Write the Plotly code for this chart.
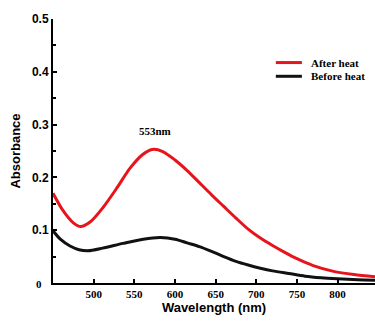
import plotly.graph_objects as go

# Data
wl_after = [450, 462, 475, 484, 496, 512, 529, 545, 560, 572, 585, 600, 615, 630, 645, 660, 675, 690, 705, 720, 735, 750, 770, 795, 820, 846]
abs_after = [0.170, 0.138, 0.114, 0.107, 0.116, 0.144, 0.181, 0.218, 0.243, 0.253, 0.249, 0.233, 0.213, 0.190, 0.167, 0.145, 0.123, 0.102, 0.085, 0.071, 0.058, 0.046, 0.033, 0.022, 0.016, 0.012]

wl_before = [450, 459, 471, 482, 493, 511, 536, 561, 582, 600, 615, 630, 645, 660, 675, 690, 705, 720, 740, 760, 780, 800, 825, 846]
abs_before = [0.099, 0.083, 0.070, 0.063, 0.061, 0.066, 0.075, 0.083, 0.086, 0.083, 0.076, 0.069, 0.060, 0.050, 0.041, 0.034, 0.028, 0.023, 0.018, 0.013, 0.010, 0.008, 0.006, 0.005]

x_ticks = [500, 550, 600, 650, 700, 750, 800]
y_ticks = [0.1, 0.2, 0.3, 0.4, 0.5]
y_ticktext = ["0.1", "0.2", "0.3", "0.4", "0.5"]
series_names = ["After heat", "Before heat"]
series_colors = ["#e8141b", "#111111"]

serif = "Liberation Serif"
sans = "Liberation Sans"

fig = go.Figure()
fig.add_trace(go.Scatter(x=wl_after, y=abs_after, mode="lines", name=series_names[0], showlegend=False,
                         line=dict(color=series_colors[0], width=3, shape="spline", smoothing=0.8)))
fig.add_trace(go.Scatter(x=wl_before, y=abs_before, mode="lines", name=series_names[1], showlegend=False,
                         line=dict(color=series_colors[1], width=3, shape="spline", smoothing=0.8)))

# Compact legend (rows closer than Plotly's legend allows)
leg_x0, leg_x1, leg_tx = 0.692, 0.773, 0.795
leg_rows = [0.835, 0.783]
for name, color, yy in zip(series_names, series_colors, leg_rows):
    fig.add_shape(type="line", xref="paper", yref="paper", x0=leg_x0, x1=leg_x1, y0=yy, y1=yy,
                  line=dict(color=color, width=3))
    fig.add_annotation(x=leg_tx, y=yy, xref="paper", yref="paper", text="<b>" + name + "</b>",
                       showarrow=False, xanchor="left", yanchor="middle",
                       font=dict(family=serif, size=11, color="black"))

fig.add_annotation(x=575, y=0.287, text="<b>553nm</b>", showarrow=False,
                   font=dict(family=serif, size=11, color="black"))
fig.add_annotation(x=0, y=0, xref="paper", yref="y", text="<b>0</b>", showarrow=False,
                   xanchor="right", yanchor="middle", xshift=-9, yshift=-1,
                   font=dict(family=serif, size=11, color="black"))

fig.update_layout(
    width=375, height=322,
    margin=dict(l=53, r=0, t=19, b=39),
    paper_bgcolor="white", plot_bgcolor="white",
    showlegend=False,
    xaxis=dict(range=[450, 846], tickvals=x_ticks, ticks="inside", ticklen=4, tickwidth=2,
               tickcolor="black", showline=True, linecolor="black", linewidth=2,
               showgrid=False, zeroline=False, automargin=False,
               tickfont=dict(family=serif, size=11, color="black", weight="bold"),
               title=dict(text="<b>Wavelength (nm)</b>", font=dict(family=sans, size=13, color="black"),
                          standoff=4)),
    yaxis=dict(range=[0, 0.5], tickvals=y_ticks, ticktext=y_ticktext, ticks="inside", ticklen=4,
               tickwidth=2, tickcolor="black", showline=True, linecolor="black", linewidth=2,
               showgrid=False, zeroline=False, automargin=False,
               minor=dict(dtick=0.05, ticks="inside", ticklen=3, tickwidth=2, tickcolor="black"),
               tickfont=dict(family=sans, size=12, color="black", weight="bold"),
               title=dict(text="<b>Absorbance</b>", font=dict(family=sans, size=13, color="black"),
                          standoff=8)),
)

fig.write_html("out.html", config={"displayModeBar": False},
               post_script="document.body.style.margin='0';document.body.style.overflow='hidden';")
